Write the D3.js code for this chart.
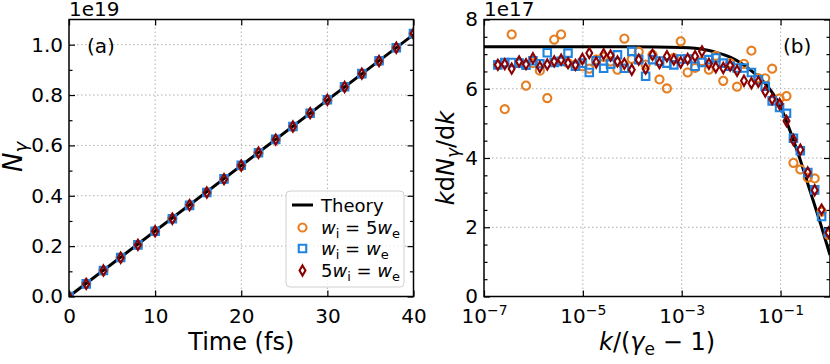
<!doctype html>
<html>
<head>
<meta charset="utf-8">
<script src="https://cdnjs.cloudflare.com/ajax/libs/d3/7.8.5/d3.min.js"></script>
<style>
  body { margin: 0; background: #fff; }
  svg { display: block; font-family: "DejaVu Sans", sans-serif; }
</style>
</head>
<body>
<svg id="fig" width="830" height="364"></svg>
<script>
// ---- panel (a): photon number vs time (units of 1e19) ----
var timeFs = [0, 2, 4, 6, 8, 10, 12, 14, 16, 18, 20, 22, 24, 26, 28, 30, 32, 34, 36, 38, 40];
var theoryTime = [0, 40];
var theoryN = [0, 1.04];
var nWi5We = [0, 0.051, 0.103, 0.154, 0.206, 0.259, 0.310, 0.363, 0.414, 0.466, 0.519, 0.571, 0.623, 0.675, 0.728, 0.780, 0.832, 0.884, 0.935, 0.988, 1.043];
var nWiWe  = [0, 0.050, 0.103, 0.155, 0.205, 0.259, 0.309, 0.362, 0.413, 0.467, 0.521, 0.571, 0.624, 0.675, 0.728, 0.781, 0.833, 0.885, 0.936, 0.988, 1.044];
var n5WiWe = [0, 0.050, 0.103, 0.154, 0.205, 0.259, 0.309, 0.363, 0.413, 0.466, 0.520, 0.571, 0.623, 0.675, 0.728, 0.781, 0.832, 0.885, 0.935, 0.988, 1.044];

// ---- panel (b): spectrum k dN/dk (units of 1e17), k/(gamma_e-1) given as log10 ----
var kExp = [-6.72, -6.58, -6.44, -6.29, -6.15, -6.01, -5.87, -5.72, -5.58, -5.44, -5.30, -5.15,
            -5.01, -4.87, -4.73, -4.58, -4.44, -4.30, -4.16, -4.01, -3.87, -3.73, -3.59, -3.45,
            -3.30, -3.16, -3.02, -2.88, -2.73, -2.59, -2.45, -2.31, -2.16, -2.02, -1.88, -1.74,
            -1.59, -1.45, -1.31, -1.17, -1.02, -0.88, -0.74, -0.60, -0.45, -0.31, -0.17, -0.03];
var specWi5We = [6.70, 5.41, 7.57, 6.74, 6.09, 6.74, 6.52, 5.73, 7.42, 7.57, 6.74, 6.70,
                 6.65, 6.58, 6.84, 6.92, 6.79, 6.55, 7.45, 6.86, 7.07, 6.70, 6.98, 6.27,
                 6.01, 6.89, 7.37, 6.47, 6.60, 6.80, 6.55, 6.95, 6.23, 6.74, 6.06, 6.72,
                 7.10, 6.31, 6.30, 6.58, 5.72, 5.79, 3.86, 3.67, 3.43, 3.41, 2.45, 1.78];
var specWiWe = [6.69, 6.76, 6.76, 6.74, 6.68, 6.81, 6.72, 7.04, 6.76, 6.79, 7.03, 6.65,
                6.74, 6.47, 6.81, 6.59, 6.71, 6.98, 6.59, 7.08, 6.84, 6.36, 6.84, 6.80,
                6.74, 6.69, 6.86, 6.86, 6.65, 6.76, 6.84, 6.89, 6.74, 6.65, 6.60, 6.60,
                6.47, 6.26, 6.07, 5.65, 5.46, 5.29, 4.57, 4.21, 3.58, 3.08, 2.31, 1.85];
var spec5WiWe = [6.69, 6.71, 6.58, 6.79, 6.71, 6.88, 6.63, 6.70, 6.79, 6.84, 6.74, 6.69,
                 6.86, 7.03, 6.76, 7.00, 6.96, 6.79, 6.72, 6.55, 6.84, 6.58, 6.98, 6.74,
                 6.94, 6.84, 6.76, 6.86, 6.94, 7.08, 6.72, 6.62, 6.60, 6.67, 6.52, 6.23,
                 6.16, 6.20, 5.92, 5.70, 5.56, 5.07, 4.52, 4.24, 3.58, 3.07, 2.51, 1.85];
var theoryKExp = [-7, -4, -3, -2.5, -2.3, -2.0, -1.82, -1.55, -1.245, -1.01, -0.81, -0.62, -0.41, -0.18, 0];
var theorySpec = [7.21, 7.21, 7.19, 7.12, 7.05, 6.90, 6.76, 6.47, 6.04, 5.51, 4.79, 4.02, 3.08, 2.05, 1.2];

var orange = "#e67e22", blue = "#1f83e0", darkred = "#8b0000";

var svg = d3.select("#fig");
var yTop = 19.5, yBot = 296.5;

var xa = d3.scaleLinear().domain([0, 40]).range([69, 413.5]);
var ya = d3.scaleLinear().domain([0, 1.1]).range([yBot, yTop]);
var xb = d3.scaleLog().domain([1e-7, 1]).range([484, 830]);
var yb = d3.scaleLinear().domain([0, 8]).range([yBot, yTop]);

var shapes = {
  circle: d3.symbol(d3.symbolCircle, 52),
  square: d3.symbol(d3.symbolSquare, 56),
  diamond: d3.symbol(d3.symbolDiamond, 30)
};

function clip(id, x) {
  svg.append("clipPath").attr("id", id).append("rect")
    .attr("x", x.range()[0]).attr("y", yTop)
    .attr("width", x.range()[1] - x.range()[0]).attr("height", yBot - yTop);
}

function grid(x, y, xv, yv) {
  var g = svg.append("g").attr("stroke", "#b0b0b0").attr("stroke-width", 1).attr("stroke-dasharray", "1.5,2.5");
  g.selectAll(".gx").data(xv).join("line").attr("class", "gx")
    .attr("x1", d => x(d)).attr("x2", d => x(d)).attr("y1", yTop).attr("y2", yBot);
  g.selectAll(".gy").data(yv).join("line").attr("class", "gy")
    .attr("x1", x.range()[0]).attr("x2", x.range()[1]).attr("y1", d => y(d)).attr("y2", d => y(d));
}

function markers(clipId, xs, ys, x, y, shape, color) {
  svg.append("g").attr("clip-path", "url(#" + clipId + ")")
    .selectAll("path").data(xs).join("path")
    .attr("transform", (d, i) => "translate(" + x(d) + "," + y(ys[i]) + ")")
    .attr("d", shapes[shape]())
    .attr("fill", "none").attr("stroke", color).attr("stroke-width", 2.1);
}

function theoryLine(clipId, xs, ys, x, y) {
  svg.append("path").attr("clip-path", "url(#" + clipId + ")")
    .datum(xs)
    .attr("d", d3.line().x(d => x(d)).y((d, i) => y(ys[i])).curve(d3.curveMonotoneX))
    .attr("fill", "none").attr("stroke", "#000").attr("stroke-width", 3);
}

function axes(x, y, xMajor, yMajor, yMinor, xFmt, yFmt) {
  var x0 = x.range()[0], x1 = x.range()[1];
  function style(g) {
    g.attr("font-family", null).attr("font-size", null);
    g.select(".domain").remove();
    g.selectAll(".tick line").attr("stroke", "#000").attr("stroke-width", 1.2);
    g.selectAll(".tick text").attr("font-size", 20).attr("fill", "#000");
    return g;
  }
  var gb = svg.append("g").attr("transform", "translate(0," + yBot + ")")
    .call(d3.axisBottom(x).tickValues(xMajor).tickSize(-6).tickPadding(12).tickFormat(xFmt));
  style(gb);
  style(svg.append("g").attr("transform", "translate(0," + yTop + ")")
    .call(d3.axisTop(x).tickValues(xMajor).tickSize(-6).tickFormat("")));
  style(svg.append("g").attr("transform", "translate(" + x0 + ",0)")
    .call(d3.axisLeft(y).tickValues(yMajor).tickSize(-6).tickPadding(6).tickFormat(yFmt)));
  style(svg.append("g").attr("transform", "translate(" + x0 + ",0)")
    .call(d3.axisLeft(y).tickValues(yMinor).tickSize(-3.5).tickFormat("")));
  style(svg.append("g").attr("transform", "translate(" + x1 + ",0)")
    .call(d3.axisRight(y).tickValues(yMajor).tickSize(-6).tickFormat("")));
  style(svg.append("g").attr("transform", "translate(" + x1 + ",0)")
    .call(d3.axisRight(y).tickValues(yMinor).tickSize(-3.5).tickFormat("")));
  svg.append("rect").attr("x", x0).attr("y", yTop).attr("width", x1 - x0).attr("height", yBot - yTop)
    .attr("fill", "none").attr("stroke", "#000").attr("stroke-width", 1.5);
  return gb;
}

// ================= panel (a) =================
clip("clipA", xa);
grid(xa, ya, [10, 20, 30], [0.2, 0.4, 0.6, 0.8, 1.0]);
theoryLine("clipA", theoryTime, theoryN, xa, ya);
markers("clipA", timeFs, nWi5We, xa, ya, "circle", orange);
markers("clipA", timeFs, nWiWe, xa, ya, "square", blue);
markers("clipA", timeFs, n5WiWe, xa, ya, "diamond", darkred);
axes(xa, ya, [0, 10, 20, 30, 40], [0, 0.2, 0.4, 0.6, 0.8, 1.0], [0.1, 0.3, 0.5, 0.7, 0.9],
     d3.format("d"), d3.format(".1f"));

svg.append("text").attr("x", 69).attr("y", 15.5).attr("font-size", 20).text("1e19");
svg.append("text").attr("x", 87).attr("y", 53).attr("font-size", 20).text("(a)");

svg.append("text").attr("x", 241.25).attr("y", 350).attr("font-size", 24)
  .attr("text-anchor", "middle").text("Time (fs)");

var yla = svg.append("text").attr("transform", "translate(22,157) rotate(-90)")
  .attr("font-size", 26).attr("text-anchor", "middle");
yla.append("tspan").attr("font-style", "italic").text("N");
yla.append("tspan").attr("font-style", "italic").attr("font-size", 18).attr("dy", 5).text("γ");

// legend
var lg = svg.append("g");
lg.append("rect").attr("x", 286).attr("y", 191).attr("width", 118).attr("height", 96).attr("rx", 4)
  .attr("fill", "#fff").attr("fill-opacity", 0.8).attr("stroke", "#d0d0d0").attr("stroke-width", 1);
lg.append("line").attr("x1", 292).attr("x2", 313).attr("y1", 205).attr("y2", 205)
  .attr("stroke", "#000").attr("stroke-width", 3);
var legendItems = [
  { shape: "circle", color: orange, y: 227.5, a: "", b: " = 5" },
  { shape: "square", color: blue, y: 248.5, a: "", b: " = " },
  { shape: "diamond", color: darkred, y: 270.5, a: "5", b: " = " }
];
lg.append("text").attr("x", 321).attr("y", 212).attr("font-size", 18).text("Theory");
legendItems.forEach(function (it) {
  lg.append("path").attr("transform", "translate(302.5," + it.y + ")")
    .attr("d", shapes[it.shape]()).attr("fill", "none").attr("stroke", it.color).attr("stroke-width", 2.1);
  var t = lg.append("text").attr("x", 321).attr("y", it.y + 6.5).attr("font-size", 18);
  if (it.a) t.append("tspan").text(it.a);
  t.append("tspan").attr("font-style", "italic").text("w");
  t.append("tspan").attr("font-size", 13).attr("dy", 4).text("i");
  t.append("tspan").attr("dy", -4).text(it.b);
  t.append("tspan").attr("font-style", "italic").text("w");
  t.append("tspan").attr("font-size", 13).attr("dy", 4).text("e");
});

// ================= panel (b) =================
var kVals = kExp.map(e => Math.pow(10, e));
var kTheory = theoryKExp.map(e => Math.pow(10, e));

clip("clipB", xb);
grid(xb, yb, [1e-5, 1e-3, 1e-1], [2, 4, 6]);
theoryLine("clipB", kTheory, theorySpec, xb, yb);
markers("clipB", kVals, specWi5We, xb, yb, "circle", orange);
markers("clipB", kVals, specWiWe, xb, yb, "square", blue);
markers("clipB", kVals, spec5WiWe, xb, yb, "diamond", darkred);
var gbx = axes(xb, yb, [1e-7, 1e-5, 1e-3, 1e-1], [0, 2, 4, 6, 8],
     [0.5, 1, 1.5, 2.5, 3, 3.5, 4.5, 5, 5.5, 6.5, 7, 7.5], d3.format("d"), d3.format("d"));
gbx.selectAll(".tick text").each(function (d) {
  var e = Math.round(Math.log10(d));
  var t = d3.select(this).text(null);
  t.append("tspan").text("10");
  t.append("tspan").attr("font-size", 14).attr("dy", -8).text("\u2212" + Math.abs(e));
});

svg.append("text").attr("x", 484).attr("y", 15.5).attr("font-size", 20).text("1e17");
svg.append("text").attr("x", 783).attr("y", 53).attr("font-size", 20).text("(b)");

var xlb = svg.append("text").attr("x", 657).attr("y", 350).attr("font-size", 24).attr("text-anchor", "middle");
xlb.append("tspan").attr("font-style", "italic").text("k");
xlb.append("tspan").text("/(");
xlb.append("tspan").attr("font-style", "italic").text("γ");
xlb.append("tspan").attr("font-size", 17).attr("dy", 5).text("e");
xlb.append("tspan").attr("dy", -5).text(" \u2212 1)");

var ylb = svg.append("text").attr("transform", "translate(454,158) rotate(-90)")
  .attr("font-size", 24).attr("text-anchor", "middle");
ylb.append("tspan").attr("font-style", "italic").text("k");
ylb.append("tspan").text("d");
ylb.append("tspan").attr("font-style", "italic").text("N");
ylb.append("tspan").attr("font-style", "italic").attr("font-size", 17).attr("dy", 5).text("γ");
ylb.append("tspan").attr("dy", -5).text("/d");
ylb.append("tspan").attr("font-style", "italic").text("k");
</script>
</body>
</html>
